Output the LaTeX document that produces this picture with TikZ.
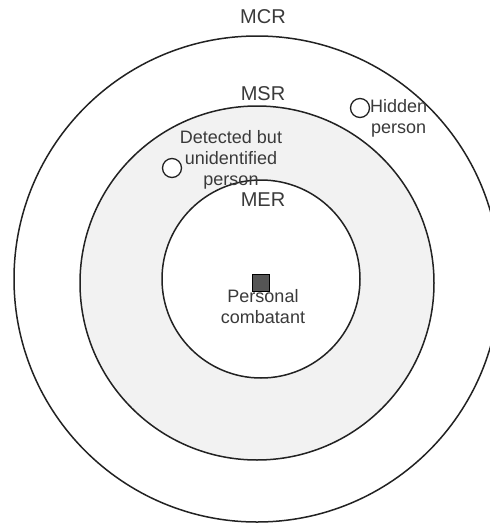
\documentclass[tikz,border=0pt]{standalone}
\usepackage{fontspec}
\setmainfont{Liberation Sans}
\definecolor{ringline}{HTML}{222222}
\definecolor{ringfill}{HTML}{F2F2F2}
\definecolor{txt}{HTML}{3A3A3A}
\definecolor{boxfill}{HTML}{555555}
\begin{document}
\begin{tikzpicture}[x=1pt,y=-1pt,
  ring/.style={circle,draw=ringline,line width=1.5pt,inner sep=0pt},
  lbl/.style={text=txt,font=\fontsize{20}{22}\selectfont,inner sep=0pt},
  note/.style={text=txt,font=\fontsize{18}{21}\selectfont,inner sep=0pt,align=center},
  person/.style={circle,draw=ringline,line width=1.3pt,fill=white,minimum size=19pt,inner sep=0pt}]
\useasboundingbox (0,0) rectangle (490,525);
\clip (0,0) rectangle (490,525);
\fill[white] (0,0) rectangle (490,525);
\node[ring,fill=white,minimum size=486pt] (mcr) at (257,279) {};
\node[ring,fill=ringfill,minimum size=354pt] (msr) at (257,283) {};
\node[ring,fill=white,minimum size=198pt] (mer) at (261,279) {};
\node[lbl] (mcrlbl) at (263,17) {MCR};
\node[lbl] (msrlbl) at (263,94) {MSR};
\node[lbl] (merlbl) at (263,200) {MER};
\node[person] (hidden) at (360,108) {};
\node[note,anchor=west] (hiddenlbl) at (370,118) {Hidden\\person};
\node[person] (detected) at (172,168) {};
\node[note] (detectedlbl) at (231,160) {Detected but\\unidentified\\person};
\node[draw=black,line width=1pt,fill=boxfill,minimum size=17pt,inner sep=0pt] (pc) at (261,283) {};
\node[note,anchor=north] (pclbl) at (263,289) {Personal\\combatant};
\end{tikzpicture}
\end{document}
